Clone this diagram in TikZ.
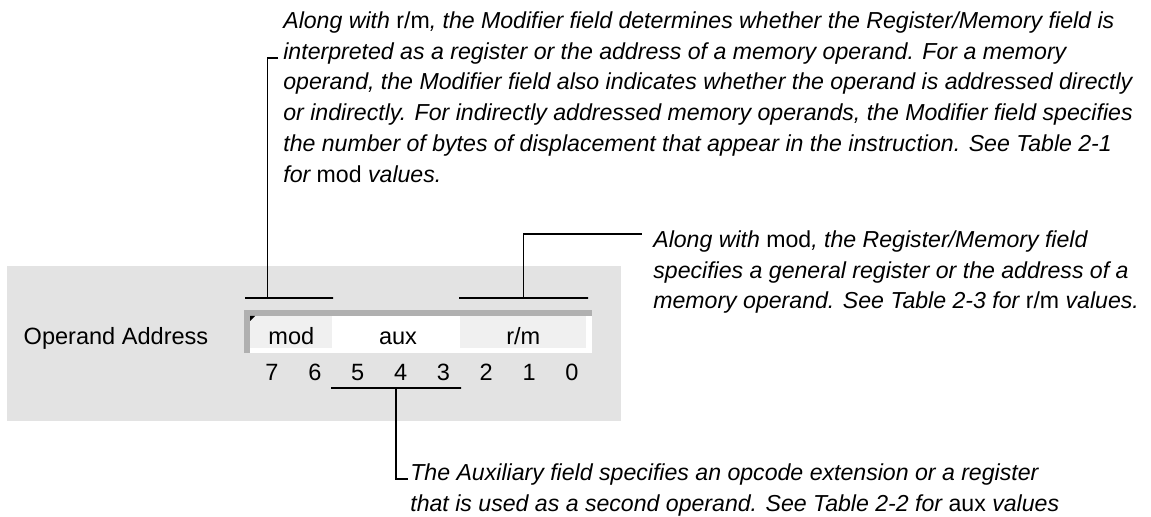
\documentclass[tikz,border=0pt]{standalone}
\usepackage{fontspec}
\setmainfont{Liberation Sans}
\usetikzlibrary{positioning, calc}
\definecolor{panelgray}{HTML}{E3E3E3}
\definecolor{framegray}{HTML}{B0B0B0}
\definecolor{cellgray}{HTML}{F0F0F0}

\begin{document}
\begin{tikzpicture}[
  cell/.style={rectangle, fill=cellgray, inner sep=0pt, minimum height=0.64cm, anchor=north west},
  label/.style={font=\fontsize{13.4}{16}\selectfont, inner sep=0pt, anchor=base},
  note/.style={align=left, inner sep=0pt, anchor=north west,
               font=\fontsize{13.15}{17.6}\selectfont\itshape},
  bar/.style={draw, line width=1.1pt, inner sep=0pt, minimum height=0pt},
  lead/.style={line width=1.1pt}
]
\useasboundingbox (0,0) rectangle (23.02,-10.34);
\fill[panelgray] (0.14,-5.32) rectangle (12.42,-8.42);
\fill[framegray] (4.88,-6.20) rectangle (11.84,-7.06);
\fill[white] (5.00,-6.32) rectangle (11.84,-7.06);

\node[cell, minimum width=1.64cm] (modcell) at (5.00,-6.32) {};
\node[cell, minimum width=2.52cm] (rmcell) at (9.20,-6.32) {};
\fill (modcell.north west) -- ++(0.10,0) -- ++(-0.10,-0.10) -- cycle;

\node[label] (opaddr) at (2.32,-6.90) {Operand Address};
\node[label] (mod) at (modcell.center |- opaddr.base) {mod};
\node[label] (aux) at (7.96,-6.90) {aux};
\node[label] (rm) at (rmcell.center |- opaddr.base) {r/m};
\foreach \b [count=\i from 0] in {7,...,0}
  \node[label] (bit\b) at ({5.44+0.857*\i},-7.62) {\b};

\node[bar, minimum width=1.74cm] (modbar) at (5.79,-5.96) {};
\node[bar, minimum width=2.58cm] (rmbar) at (10.47,-5.96) {};
\node[bar, minimum width=2.60cm] (auxbar) at (7.92,-7.76) {};

\node[note] (modnote) at (5.66,-0.22) {Along with \upshape r/m\itshape, the Modifier field determines whether the Register/Memory field is\\
interpreted as a register or the address of a memory operand. For a memory\\
operand, the Modifier field also indicates whether the operand is addressed directly\\
or indirectly. For indirectly addressed memory operands, the Modifier field specifies\\
the number of bytes of displacement that appear in the instruction. See Table 2-1\\
for \upshape mod \itshape values.};
\node[note] (rmnote) at (13.06,-4.60) {Along with \upshape mod\itshape, the Register/Memory field\\
specifies a general register or the address of a\\
memory operand. See Table 2-3 for \upshape r/m \itshape values.};
\node[note] (auxnote) at (8.20,-9.26) {The Auxiliary field specifies an opcode extension or a register\\
that is used as a second operand. See Table 2-2 for \upshape aux \itshape values};

\coordinate (modtip) at (5.56,-1.16);
\coordinate (rmtip) at (12.84,-4.68);
\coordinate (auxtip) at (8.16,-9.58);
\draw[lead] (modtip) -- ++(-0.21,0) |- (modbar);
\draw[lead] (rmbar) |- (rmtip);
\draw[lead] (auxbar) |- (auxtip);
\end{tikzpicture}
\end{document}
